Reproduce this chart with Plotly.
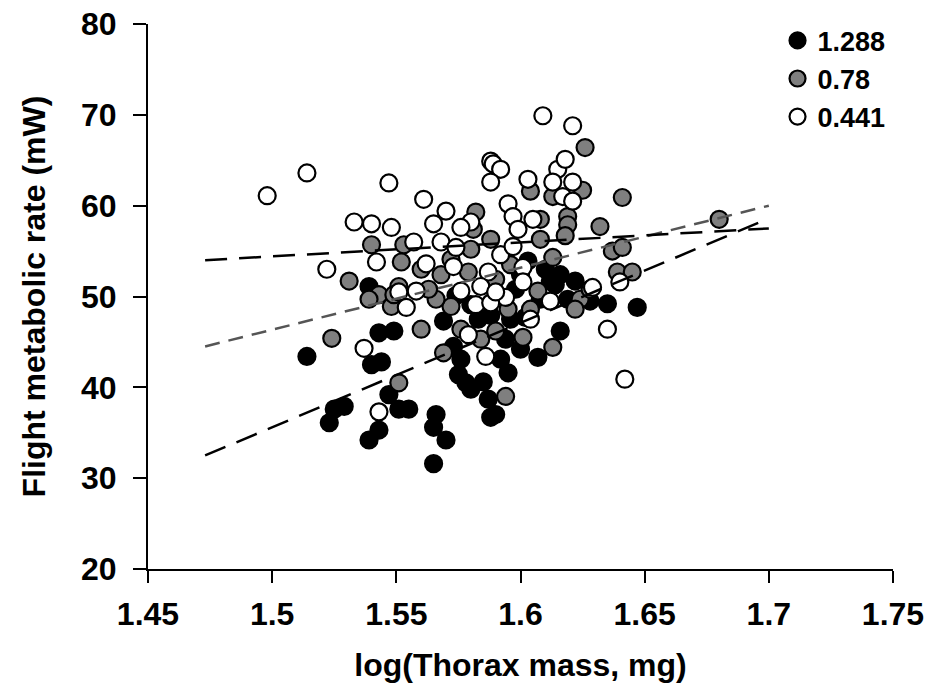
import plotly.graph_objects as go

# --- data ---
black_x = [1.514, 1.523, 1.525, 1.529, 1.539, 1.543, 1.540, 1.544, 1.543, 1.549,
           1.547, 1.551, 1.555, 1.539, 1.565, 1.566, 1.570, 1.565, 1.575, 1.578,
           1.580, 1.585, 1.587, 1.588, 1.590, 1.595, 1.592, 1.607, 1.573, 1.569,
           1.616, 1.635, 1.647, 1.628, 1.603, 1.614, 1.583, 1.596, 1.600, 1.588,
           1.574, 1.580, 1.598, 1.610, 1.616, 1.622, 1.608, 1.594, 1.576, 1.612,
           1.619, 1.602, 1.600]
black_y = [43.4, 36.1, 37.6, 37.9, 34.2, 35.3, 42.5, 42.8, 46.0, 46.2,
           39.2, 37.6, 37.6, 51.1, 31.6, 37.0, 34.2, 35.6, 41.4, 40.5,
           39.8, 40.6, 38.7, 36.7, 37.0, 41.6, 43.1, 43.3, 44.5, 47.3,
           46.2, 49.2, 48.8, 49.5, 53.9, 51.3, 47.5, 47.5, 44.2, 47.9,
           50.1, 49.1, 50.8, 53.0, 52.4, 51.7, 49.7, 45.3, 43.1, 51.7,
           49.7, 47.7, 52.4]

grey_x = [1.524, 1.551, 1.540, 1.553, 1.552, 1.531, 1.543, 1.548, 1.594, 1.613,
          1.601, 1.569, 1.560, 1.590, 1.579, 1.607, 1.572, 1.566, 1.551, 1.595,
          1.582, 1.581, 1.604, 1.613, 1.626, 1.625, 1.641, 1.619, 1.619, 1.618,
          1.632, 1.637, 1.641, 1.680, 1.613, 1.639, 1.645, 1.624, 1.563, 1.576,
          1.584, 1.590, 1.596, 1.608, 1.628, 1.622, 1.604, 1.572, 1.560, 1.568,
          1.539, 1.549, 1.580, 1.588, 1.608]
grey_y = [45.4, 40.5, 55.7, 55.7, 53.8, 51.7, 50.2, 48.9, 39.0, 44.4,
          45.5, 43.8, 46.4, 46.2, 52.7, 50.6, 48.9, 49.7, 51.1, 48.6,
          59.3, 57.4, 61.6, 61.0, 66.4, 61.7, 60.9, 58.8, 57.9, 56.7,
          57.7, 55.0, 55.4, 58.5, 54.3, 52.7, 52.7, 49.7, 50.8, 46.4,
          45.3, 51.9, 53.5, 56.3, 50.8, 48.6, 48.6, 54.1, 53.0, 52.4,
          49.7, 50.2, 55.2, 56.3, 58.5]

white_x = [1.498, 1.514, 1.547, 1.533, 1.540, 1.548, 1.542, 1.522, 1.537, 1.543,
           1.609, 1.588, 1.589, 1.592, 1.588, 1.603, 1.615, 1.613, 1.561, 1.570,
           1.565, 1.580, 1.576, 1.595, 1.597, 1.605, 1.599, 1.568, 1.574, 1.557,
           1.592, 1.597, 1.562, 1.573, 1.587, 1.601, 1.576, 1.584, 1.594, 1.601,
           1.612, 1.582, 1.588, 1.558, 1.554, 1.604, 1.579, 1.586, 1.621, 1.618,
           1.621, 1.617, 1.621, 1.640, 1.629, 1.635, 1.642, 1.551, 1.590]
white_y = [61.1, 63.6, 62.5, 58.2, 58.0, 57.6, 53.8, 53.0, 44.3, 37.3,
           69.9, 64.9, 64.6, 64.0, 62.6, 62.9, 64.0, 62.6, 60.7, 59.4,
           58.0, 58.2, 57.6, 60.2, 58.8, 58.5, 57.4, 56.0, 55.4, 56.0,
           54.6, 55.5, 53.6, 53.3, 52.7, 53.2, 50.6, 51.1, 49.9, 51.6,
           49.5, 49.1, 49.3, 50.6, 48.8, 47.5, 45.8, 43.4, 68.8, 65.1,
           62.6, 61.0, 60.5, 51.6, 51.0, 46.4, 40.9, 50.5, 50.5]

fit_x = [1.473, 1.700]
fit_black_y = [32.5, 58.6]
fit_grey_y = [44.5, 60.0]
fit_white_y = [54.0, 57.5]

series_names = ["1.288", "0.78", "0.441"]
x_ticks = [1.45, 1.5, 1.55, 1.6, 1.65, 1.7, 1.75]
x_tick_text = ["1.45", "1.5", "1.55", "1.6", "1.65", "1.7", "1.75"]
y_ticks = [20, 30, 40, 50, 60, 70, 80]

FONT = "Liberation Sans, Arial, sans-serif"

fig = go.Figure()

for xs, ys, name, fill in [(black_x, black_y, series_names[0], "#000000"),
                           (grey_x, grey_y, series_names[1], "#7f7f7f"),
                           (white_x, white_y, series_names[2], "#ffffff")]:
    fig.add_trace(go.Scatter(
        x=xs, y=ys, mode="markers", name=name,
        marker=dict(size=17, color=fill, line=dict(color="#000000", width=2.2)),
    ))

for ys, col, dash in [(fit_black_y, "#000000", "22px,12px"),
                      (fit_grey_y, "#555555", "15px,9px"),
                      (fit_white_y, "#000000", "22px,12px")]:
    fig.add_trace(go.Scatter(
        x=fit_x, y=ys, mode="lines", showlegend=False,
        line=dict(color=col, width=2.5, dash=dash),
    ))

tick_font = dict(family=FONT, size=32, color="black", weight="bold")
title_font = dict(family=FONT, size=32, color="black", weight="bold")

fig.update_layout(
    width=927, height=696,
    margin=dict(l=148, r=34, t=24, b=127),
    paper_bgcolor="white", plot_bgcolor="white",
    font=dict(family=FONT, size=32, color="black", weight="bold"),
    showlegend=True,
    legend=dict(x=0.845, y=1.014, xanchor="left", yanchor="top",
                font=dict(family=FONT, size=27, color="black", weight="bold"),
                bgcolor="rgba(0,0,0,0)", tracegroupgap=0, itemwidth=30),
    xaxis=dict(range=[1.45, 1.75], tickvals=x_ticks, ticktext=x_tick_text,
               showgrid=False, zeroline=False, showline=True, linecolor="black",
               linewidth=2, ticks="outside", ticklen=12, tickwidth=2, tickcolor="black",
               tickfont=tick_font, automargin=False, ticklabelstandoff=4,
               title=dict(text="log(Thorax mass, mg)", standoff=22, font=title_font)),
    yaxis=dict(range=[20, 80], tickvals=y_ticks,
               showgrid=False, zeroline=False, showline=True, linecolor="black",
               linewidth=2, ticks="outside", ticklen=13, tickwidth=2, tickcolor="black",
               tickfont=tick_font, automargin=False, ticklabelstandoff=10,
               title=dict(text="Flight metabolic rate (mW)", standoff=26, font=title_font)),
)

fig.write_html("out.html")
